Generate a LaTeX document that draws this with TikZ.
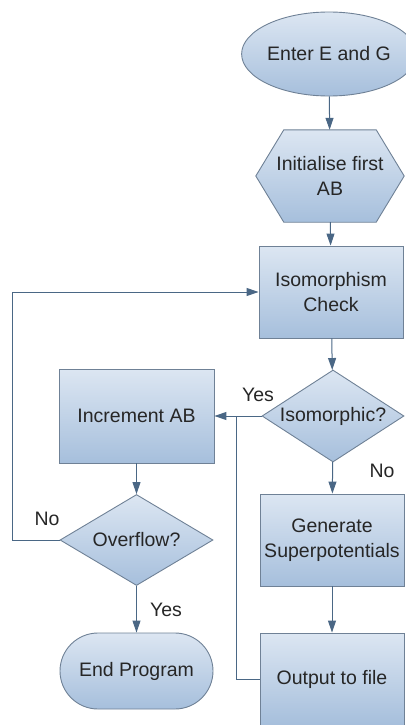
\documentclass[tikz,border=0pt]{standalone}
\usepackage{fontspec}
\setmainfont{Liberation Sans}
\usetikzlibrary{shapes.geometric,shapes.misc,arrows.meta}
\definecolor{fillTop}{HTML}{DCE6F2}
\definecolor{fillBot}{HTML}{A6BFDC}
\definecolor{edgeCol}{HTML}{6F8196}
\definecolor{lineCol}{HTML}{4A6785}
\tikzset{
  base/.style={draw=edgeCol, line width=0.9pt, top color=fillTop, bottom color=fillBot,
    inner sep=0pt, font=\fontsize{19.5}{25}\selectfont, align=center, text=black!85},
  boxstyle/.style={base, rectangle, minimum width=144pt, minimum height=92pt},
  termstyle/.style={base, ellipse, minimum width=150pt, minimum height=84pt},
  endstyle/.style={base, rounded rectangle, minimum width=153pt, minimum height=76pt},
  decstyle/.style={base, diamond, aspect=1.55},
  conn/.style={draw=lineCol, line width=1pt, -{Triangle[length=12pt,width=8pt]}},
  plainline/.style={draw=lineCol, line width=1pt},
  lbl/.style={font=\fontsize{19.5}{25}\selectfont, text=black!85, inner sep=0pt}
}
\begin{document}
\begin{tikzpicture}[x=1pt,y=-1pt]
\useasboundingbox (0,0) rectangle (406,725);
% right column
\node[termstyle] (enter) at (329,54) {Enter E and G};
\node[inner sep=0pt, minimum width=148pt, minimum height=92pt] (init) at (330,176) {};
\shade[top color=fillTop, bottom color=fillBot, draw=edgeCol, line width=0.9pt]
  (init.west) -- ([xshift=28pt]init.north west) -- ([xshift=-28pt]init.north east)
  -- (init.east) -- ([xshift=-28pt]init.south east) -- ([xshift=28pt]init.south west) -- cycle;
\node[lbl, align=center] at (init.center) {Initialise first\\AB};
\node[boxstyle] (iso) at (331,292) {Isomorphism\\Check};
\node[decstyle, minimum width=142pt, minimum height=92pt] (isq) at (333,416) {\makebox[0pt]{Isomorphic?}};
\node[boxstyle] (gen) at (332,540) {Generate\\Superpotentials};
\node[boxstyle] (out) at (332,679) {Output to file};
% left column
\node[boxstyle, minimum width=155pt, minimum height=94pt] (inc) at (136.5,416) {Increment AB};
\node[decstyle, minimum width=153pt, minimum height=91pt] (ovf) at (136.5,540) {\makebox[0pt]{Overflow?}};
\node[endstyle] (endp) at (136.5,671) {End Program};
% labels
\node[lbl] (yes1) at (258,395) {Yes};
\node[lbl] (no1) at (382,471) {No};
\node[lbl] (no2) at (47,519) {No};
\node[lbl] (yes2) at (166,610) {Yes};
% connectors
\draw[conn] (enter) -- (init);
\draw[conn] (init) -- (iso);
\draw[conn] (iso) -- (isq);
\draw[conn] (isq) -- (gen);
\draw[conn] (gen) -- (out);
\draw[conn] (isq.west) -- (inc.east);
\coordinate (jn) at (236,416);
\draw[plainline] (out.west) -| (jn);
\draw[conn] (inc) -- (ovf);
\draw[conn] (ovf) -- (endp);
\coordinate (lc) at (12,292);
\draw[conn] (ovf.west) -| (lc) -- (iso.west);
\end{tikzpicture}
\end{document}
